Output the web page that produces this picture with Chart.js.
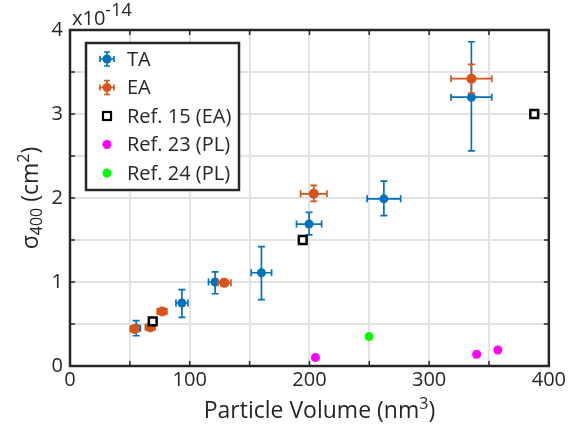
<!DOCTYPE html>
<html>
<head>
<meta charset="utf-8">
<script src="https://cdn.jsdelivr.net/npm/chart.js@4.4.0/dist/chart.umd.min.js"></script>
<style>
  html, body { margin: 0; padding: 0; background: #fff; }
</style>
</head>
<body>
<canvas id="chart" width="568" height="427"></canvas>
<script>
// values in units of 1e-14 cm^2, volumes in nm^3
const taVolume = [55.3, 93.5, 121.2, 159.9, 199.7, 262.2, 335.3];
const taVolumeErr = [3.5, 5, 5.5, 8.5, 10.5, 14, 17];
const taSigma = [0.45, 0.75, 1.0, 1.11, 1.69, 1.99, 3.2];
const taSigmaLow = [0.36, 0.58, 0.86, 0.79, 1.56, 1.79, 2.56];
const taSigmaHigh = [0.54, 0.91, 1.12, 1.42, 1.83, 2.2, 3.86];

const eaVolume = [53.9, 67, 76.9, 128.9, 203.6, 335.3];
const eaVolumeErr = [3.5, 4, 4, 5.5, 11, 17];
const eaSigma = [0.44, 0.46, 0.65, 0.99, 2.05, 3.42];
const eaSigmaLow = [0.42, 0.44, 0.63, 0.96, 1.96, 3.25];
const eaSigmaHigh = [0.46, 0.48, 0.67, 1.02, 2.15, 3.59];

const ref15Volume = [69.1, 194.4, 387.8];
const ref15Sigma = [0.53, 1.5, 3.0];
const ref23Volume = [205, 339.7, 357.4];
const ref23Sigma = [0.1, 0.14, 0.19];
const ref24Volume = [249.8];
const ref24Sigma = [0.35];

const xTicks = [0, 100, 200, 300, 400];
const yTicks = [0, 1, 2, 3, 4];

const FONT = "'Open Sans', 'Noto Sans', sans-serif";
const TEXT = "#262626";
const BLUE = "#0072BD";
const ORANGE = "#D95319";

function withErrors(xs, xe, ys, lo, hi) {
    return xs.map((x, i) => ({
        x: x, y: ys[i],
        xMin: x - xe[i], xMax: x + xe[i],
        yMin: lo[i], yMax: hi[i],
    }));
}
function points(xs, ys) {
    return xs.map((x, i) => ({ x: x, y: ys[i] }));
}

// error bars drawn right before each dataset's markers
const errorBars = {
    id: "errorBars",
    beforeDatasetDraw(chart, args) {
        const ds = chart.data.datasets[args.index];
        if (!ds.errors) return;
        const xs = chart.scales.x, ys = chart.scales.y;
        const ctx = chart.ctx;
        const cap = 3.5;
        ctx.save();
        ctx.strokeStyle = ds.borderColor;
        ctx.lineWidth = 1.7;
        ds.data.forEach((p) => {
            const px = xs.getPixelForValue(p.x);
            const py = ys.getPixelForValue(p.y);
            const x0 = xs.getPixelForValue(p.xMin);
            const x1 = xs.getPixelForValue(p.xMax);
            const y0 = ys.getPixelForValue(p.yMin);
            const y1 = ys.getPixelForValue(p.yMax);
            ctx.beginPath();
            ctx.moveTo(px, y0); ctx.lineTo(px, y1);
            ctx.moveTo(px - cap, y0); ctx.lineTo(px + cap, y0);
            ctx.moveTo(px - cap, y1); ctx.lineTo(px + cap, y1);
            ctx.moveTo(x0, py); ctx.lineTo(x1, py);
            ctx.moveTo(x0, py - cap); ctx.lineTo(x0, py + cap);
            ctx.moveTo(x1, py - cap); ctx.lineTo(x1, py + cap);
            ctx.stroke();
        });
        ctx.restore();
    },
};

function drawRichText(ctx, parts, x, y) {
    // parts: [text, size, shift]
    let cx = x;
    parts.forEach(([t, size, shift]) => {
        ctx.font = size + "px " + FONT;
        ctx.fillText(t, cx, y + shift);
        cx += ctx.measureText(t).width;
    });
    return cx - x;
}
function richWidth(ctx, parts) {
    let w = 0;
    parts.forEach(([t, size]) => {
        ctx.font = size + "px " + FONT;
        w += ctx.measureText(t).width;
    });
    return w;
}

// frame, inward ticks, axis titles, exponent and legend
const decorations = {
    id: "decorations",
    afterDraw(chart) {
        const ctx = chart.ctx;
        const a = chart.chartArea;
        const xs = chart.scales.x, ys = chart.scales.y;
        ctx.save();

        // inward ticks
        ctx.strokeStyle = TEXT;
        ctx.lineWidth = 1.5;
        ctx.beginPath();
        for (let v = 0; v <= 400; v += 50) {
            const px = xs.getPixelForValue(v);
            ctx.moveTo(px, a.bottom); ctx.lineTo(px, a.bottom - 5);
            ctx.moveTo(px, a.top); ctx.lineTo(px, a.top + 5);
        }
        for (let v = 0; v <= 4; v += 0.5) {
            const py = ys.getPixelForValue(v);
            ctx.moveTo(a.left, py); ctx.lineTo(a.left + 5, py);
            ctx.moveTo(a.right, py); ctx.lineTo(a.right - 5, py);
        }
        ctx.stroke();

        // frame
        ctx.lineWidth = 2.5;
        ctx.strokeRect(a.left, a.top, a.right - a.left, a.bottom - a.top);

        ctx.fillStyle = TEXT;
        ctx.textBaseline = "alphabetic";
        ctx.textAlign = "left";

        // exponent label
        drawRichText(ctx, [["x10", 20, 0], ["-14", 18, -9]], 72, 25);

        // x title
        const xt = [["Particle Volume (nm", 23, 0], ["3", 16, -9], [")", 23, 0]];
        const xw = richWidth(ctx, xt);
        drawRichText(ctx, xt, (a.left + a.right) / 2 - xw / 2 + 10, 418);

        // y title
        const yt = [["\u03c3", 23, 0], ["400", 16, 4], [" (cm", 23, 0], ["2", 16, -9], [")", 23, 0]];
        const yw = richWidth(ctx, yt);
        ctx.save();
        ctx.translate(38, (a.top + a.bottom) / 2);
        ctx.rotate(-Math.PI / 2);
        drawRichText(ctx, yt, -yw / 2, 0);
        ctx.restore();

        // legend
        const lx = 86, ly = 43, lw = 153, lh = 147;
        ctx.fillStyle = "#fff";
        ctx.fillRect(lx, ly, lw, lh);
        ctx.strokeStyle = TEXT;
        ctx.lineWidth = 2.5;
        ctx.strokeRect(lx, ly, lw, lh);
        const items = chart.data.datasets;
        items.forEach((ds, i) => {
            const cy = 59 + i * 28.5;
            const ix = 107;
            if (ds.errors) {
                ctx.strokeStyle = ds.borderColor;
                ctx.lineWidth = 1.7;
                ctx.beginPath();
                ctx.moveTo(ix - 7, cy); ctx.lineTo(ix + 7, cy);
                ctx.moveTo(ix, cy - 7); ctx.lineTo(ix, cy + 7);
                ctx.moveTo(ix - 7, cy - 3); ctx.lineTo(ix - 7, cy + 3);
                ctx.moveTo(ix + 7, cy - 3); ctx.lineTo(ix + 7, cy + 3);
                ctx.moveTo(ix - 3, cy - 7); ctx.lineTo(ix + 3, cy - 7);
                ctx.moveTo(ix - 3, cy + 7); ctx.lineTo(ix + 3, cy + 7);
                ctx.stroke();
            }
            if (ds.pointStyle === "rect") {
                ctx.strokeStyle = ds.borderColor;
                ctx.lineWidth = 2.2;
                ctx.fillStyle = "#fff";
                ctx.fillRect(ix - 4, cy - 4, 8, 8);
                ctx.strokeRect(ix - 4, cy - 4, 8, 8);
            } else {
                ctx.fillStyle = ds.backgroundColor;
                ctx.beginPath();
                ctx.arc(ix, cy, 4.5, 0, Math.PI * 2);
                ctx.fill();
            }
            ctx.fillStyle = TEXT;
            ctx.font = "20px " + FONT;
            ctx.textBaseline = "middle";
            ctx.fillText(ds.label, 127, cy + 1);
        });
        ctx.restore();
    },
};

new Chart(document.getElementById("chart"), {
    type: "scatter",
    data: {
        datasets: [
            {
                label: "TA",
                data: withErrors(taVolume, taVolumeErr, taSigma, taSigmaLow, taSigmaHigh),
                errors: true,
                backgroundColor: BLUE,
                borderColor: BLUE,
                pointRadius: 4.5,
                borderWidth: 0,
                order: 5,
            },
            {
                label: "EA",
                data: withErrors(eaVolume, eaVolumeErr, eaSigma, eaSigmaLow, eaSigmaHigh),
                errors: true,
                backgroundColor: ORANGE,
                borderColor: ORANGE,
                pointRadius: 5,
                borderWidth: 0,
                order: 4,
            },
            {
                label: "Ref. 15 (EA)",
                data: points(ref15Volume, ref15Sigma),
                pointStyle: "rect",
                backgroundColor: "#fff",
                borderColor: "#000",
                borderWidth: 2.5,
                pointRadius: 5.5,
                order: 3,
            },
            {
                label: "Ref. 23 (PL)",
                data: points(ref23Volume, ref23Sigma),
                backgroundColor: "#FF00FF",
                borderColor: "#FF00FF",
                borderWidth: 0,
                pointRadius: 4.5,
                order: 2,
            },
            {
                label: "Ref. 24 (PL)",
                data: points(ref24Volume, ref24Sigma),
                backgroundColor: "#00FF00",
                borderColor: "#00FF00",
                borderWidth: 0,
                pointRadius: 4.5,
                order: 1,
            },
        ],
    },
    options: {
        responsive: false,
        animation: false,
        layout: { padding: { top: 30, right: 16, left: 0, bottom: 0 } },
        plugins: {
            legend: { display: false },
            tooltip: { enabled: false },
        },
        scales: {
            x: {
                type: "linear",
                min: 0,
                max: 400,
                afterFit: (s) => { s.height = 61; },
                afterBuildTicks: (s) => {
                    const t = [];
                    for (let v = 0; v <= 400; v += 50) t.push({ value: v });
                    s.ticks = t;
                },
                ticks: {
                    color: TEXT,
                    font: { family: FONT, size: 20 },
                    padding: 2,
                    maxRotation: 0,
                    autoSkip: false,
                    callback: (v) => (xTicks.includes(v) ? String(v) : ""),
                },
                grid: { color: "#e3e3e3", lineWidth: 2, tickLength: 0 },
                border: { display: false },
            },
            y: {
                type: "linear",
                min: 0,
                max: 4,
                afterFit: (s) => { s.width = 70; },
                afterBuildTicks: (s) => {
                    const t = [];
                    for (let v = 0; v <= 4; v += 0.5) t.push({ value: v });
                    s.ticks = t;
                },
                ticks: {
                    color: TEXT,
                    font: { family: FONT, size: 20 },
                    padding: 7,
                    autoSkip: false,
                    callback: (v) => (yTicks.includes(v) ? String(v) : ""),
                },
                grid: { color: "#e3e3e3", lineWidth: 2, tickLength: 0 },
                border: { display: false },
            },
        },
    },
    plugins: [errorBars, decorations],
});
</script>
</body>
</html>
